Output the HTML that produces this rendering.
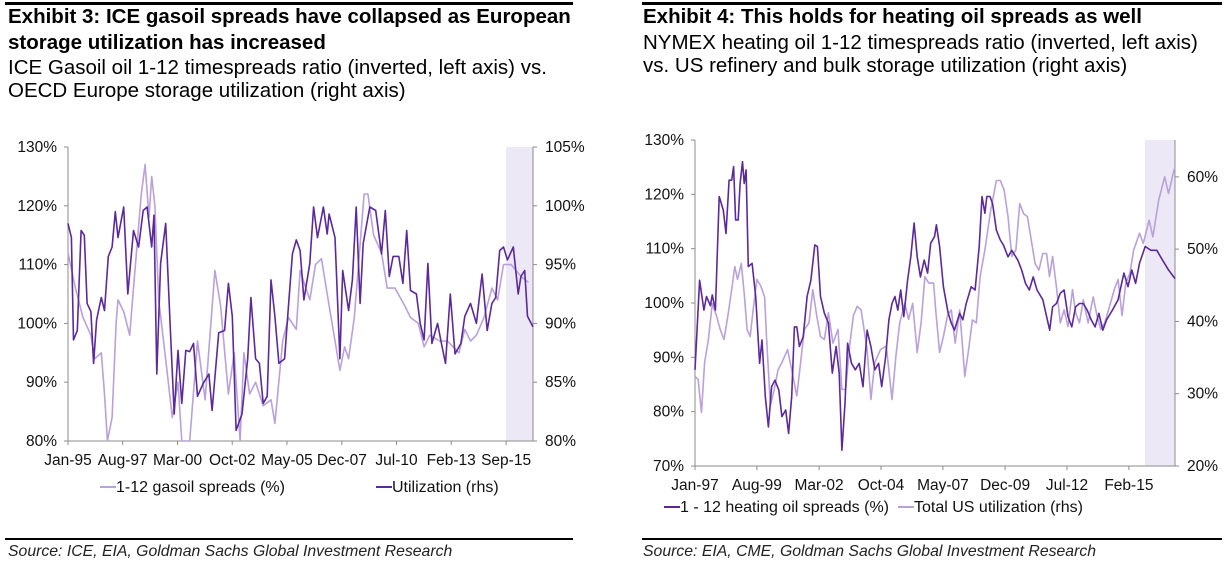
<!DOCTYPE html>
<html><head><meta charset="utf-8">
<style>
body{margin:0;width:1225px;height:567px;background:#fff;font-family:"Liberation Sans",Arial,sans-serif;overflow:hidden;position:relative}
.t{position:absolute;white-space:nowrap;color:#000}
.h{font-weight:bold;font-size:20.5px}
.s{font-size:20.5px}
.src{font-style:italic;font-size:15.8px;color:#222}
.rule{position:absolute;height:3px;background:#000}
svg{position:absolute;left:0;top:0}
svg text{font-family:"Liberation Sans",Arial,sans-serif;font-size:15.5px;fill:#111}
svg text.lg{font-size:16px}
</style></head><body>
<div class="rule" style="left:5px;top:2px;width:568px"></div>
<div class="rule" style="left:642px;top:2px;width:580px"></div>
<div class="t h" style="left:8px;top:4px;line-height:26px">Exhibit 3: ICE gasoil spreads have collapsed as European<br>storage utilization has increased</div>
<div class="t s" style="left:8px;top:56px;line-height:23px">ICE Gasoil oil 1-12 timespreads ratio (inverted, left axis) vs.<br>OECD Europe storage utilization (right axis)</div>
<div class="t h" style="left:643px;top:4px;line-height:26px">Exhibit 4: This holds for heating oil spreads as well</div>
<div class="t s" style="left:643px;top:31px;line-height:23px">NYMEX heating oil 1-12 timespreads ratio (inverted, left axis)<br>vs. US refinery and bulk storage utilization (right axis)</div>
<div class="rule" style="left:5px;top:538px;width:568px;height:2px"></div>
<div class="rule" style="left:642px;top:538px;width:580px;height:2px"></div>
<div class="t src" style="left:8px;top:543px">Source: ICE, EIA, Goldman Sachs Global Investment Research</div>
<div class="t src" style="left:643px;top:543px">Source: EIA, CME, Goldman Sachs Global Investment Research</div>
<svg id="svg" width="1225" height="567"></svg>
<script>
// ---- Exhibit 3 data ----
const gasoilYears=[1995.00,1995.35,1995.71,1996.08,1996.26,1996.57,1996.72,1996.86,1997.08,1997.27,1997.36,1997.63,1997.91,1998.09,1998.46,1998.64,1998.82,1998.95,1999.10,1999.28,1999.64,1999.92,2000.19,2000.37,2000.74,2001.11,2001.47,2001.93,2002.20,2002.57,2002.84,2003.12,2003.30,2003.57,2003.85,2004.21,2004.58,2004.76,2005.13,2005.40,2005.77,2005.95,2006.41,2006.68,2006.96,2007.23,2007.60,2007.83,2008.05,2008.24,2008.51,2008.97,2009.15,2009.42,2009.79,2010.06,2010.43,2010.89,2011.16,2011.53,2011.80,2012.07,2012.53,2012.90,2013.17,2013.45,2013.72,2013.99,2014.27,2014.63,2015.00,2015.27,2015.55,2015.91,2016.37,2016.73];
const gasoilSpreads=[112,106,101,98,94,95,88,80,84,100,104,102,98,106,122,127,118,125,120,104,93,84,90,80,79,97,87,109,103,88,95,80,95,88,90,86,87,83,97,101,99,109,104,110,111,105,97,92,96,94,101,122,122,115,112,106,106,103,101,100,96,98,97,97,96,95,99,97,98,101,106,104,110,110,108,107];
const euUtilYears=[1995.00,1995.16,1995.26,1995.44,1995.62,1995.77,1995.90,1996.08,1996.21,1996.35,1996.57,1996.72,1996.90,1997.08,1997.23,1997.36,1997.63,1997.82,1998.09,1998.33,1998.55,1998.73,1998.95,1999.06,1999.19,1999.37,1999.61,1999.83,2000.01,2000.19,2000.37,2000.56,2000.74,2000.92,2001.11,2001.38,2001.65,2001.80,2002.11,2002.39,2002.57,2002.75,2002.93,2003.21,2003.48,2003.63,2003.85,2004.03,2004.21,2004.40,2004.58,2004.76,2004.95,2005.22,2005.40,2005.59,2005.77,2005.95,2006.13,2006.41,2006.59,2006.77,2007.05,2007.23,2007.32,2007.60,2007.83,2007.96,2008.24,2008.42,2008.60,2008.78,2008.93,2009.24,2009.52,2009.79,2009.97,2010.16,2010.34,2010.61,2010.80,2010.98,2011.16,2011.44,2011.62,2011.80,2011.98,2012.17,2012.44,2012.62,2012.81,2013.04,2013.26,2013.54,2013.72,2013.99,2014.27,2014.54,2014.78,2015.00,2015.18,2015.37,2015.55,2015.73,2016.01,2016.24,2016.37,2016.55,2016.68,2016.94];
const euUtil=[98.5,97.3,88.6,89.4,97.9,97.5,91.7,91.0,86.6,90.3,92.2,91.1,95.7,96.5,99.5,97.3,99.9,92.5,97.9,96.5,99.6,99.9,96.5,99.2,85.7,95.1,98.5,89.4,82.3,87.7,83.2,87.7,87.6,88.3,83.8,84.9,85.7,82.6,89.2,89.4,93.4,90.6,80.9,82.3,87.0,92.2,87.0,86.6,83.2,83.8,93.7,90.6,86.6,87.0,91.4,95.9,97.1,96.2,92.0,95.1,99.9,97.3,99.9,97.6,99.3,97.3,87.0,94.5,91.1,93.7,99.9,91.7,96.8,99.9,99.6,95.9,99.6,94.0,95.7,95.7,93.4,97.9,92.8,92.5,90.0,88.6,95.1,88.3,90.0,88.3,86.6,92.5,87.4,88.3,90.6,91.7,90.0,94.2,89.4,91.7,92.2,96.2,96.5,95.4,96.5,92.5,94.0,94.5,90.6,89.7];
const ex3LeftTicks=[80,90,100,110,120,130];
const ex3RightTicks=[80,85,90,95,100,105];
const ex3XLabels=["Jan-95","Aug-97","Mar-00","Oct-02","May-05","Dec-07","Jul-10","Feb-13","Sep-15"];
const ex3XLabelYears=[1995,1997.58,2000.17,2002.75,2005.33,2007.92,2010.5,2013.08,2015.67];
// ---- Exhibit 4 data ----
const hoYears=[1997.00,1997.19,1997.37,1997.48,1997.64,1997.72,1997.85,1998.01,1998.18,1998.29,1998.42,1998.53,1998.61,1998.69,1998.80,1998.88,1998.98,1999.05,1999.13,1999.22,1999.38,1999.53,1999.69,1999.79,1999.93,2000.06,2000.19,2000.33,2000.49,2000.62,2000.78,2000.90,2001.03,2001.14,2001.24,2001.35,2001.51,2001.67,2001.83,2001.99,2002.10,2002.23,2002.39,2002.56,2002.72,2002.88,2003.01,2003.12,2003.25,2003.36,2003.52,2003.68,2003.84,2004.00,2004.17,2004.33,2004.49,2004.65,2004.78,2004.94,2005.08,2005.21,2005.33,2005.45,2005.57,2005.70,2005.86,2005.99,2006.13,2006.26,2006.39,2006.55,2006.69,2006.82,2006.98,2007.06,2007.19,2007.35,2007.55,2007.68,2007.81,2007.90,2008.03,2008.16,2008.30,2008.51,2008.67,2008.84,2008.96,2009.08,2009.16,2009.29,2009.40,2009.56,2009.72,2009.85,2010.04,2010.20,2010.45,2010.61,2010.77,2010.93,2011.09,2011.25,2011.49,2011.65,2011.78,2011.90,2012.06,2012.22,2012.38,2012.54,2012.70,2012.86,2013.02,2013.18,2013.34,2013.51,2013.67,2013.83,2013.99,2014.15,2014.39,2014.63,2014.87,2015.04,2015.20,2015.36,2015.52,2015.76,2016.00,2016.24,2016.48,2016.73,2017.00];
const hoSpreads=[87.7,104.2,98.7,101.2,99.5,101.5,98.7,119.6,117.1,112.8,122.6,122.6,125.1,115.3,115.3,122.0,126.0,122.0,124.5,106.7,107.3,101.2,88.9,93.2,82.8,77.2,84.6,85.8,84.0,79.1,80.3,76.0,82.8,95.6,95.6,92.0,93.8,101.2,104.2,110.7,110.4,101.2,98.1,96.3,87.1,92.0,87.1,72.9,81.5,92.6,88.9,87.7,88.9,84.6,95.0,92.0,87.7,88.9,84.6,90.1,96.9,99.9,101.2,98.7,102.4,97.5,104.2,108.5,114.7,108.5,104.8,107.9,105.5,111.0,112.2,114.4,110.4,103.0,98.1,96.3,95.0,96.3,98.1,96.9,99.9,103.0,102.4,110.4,119.6,116.5,119.6,119.6,118.3,113.4,111.6,110.7,108.5,109.7,107.9,106.1,103.6,102.4,104.8,102.4,100.6,97.5,95.0,99.3,99.9,101.8,102.4,97.5,95.6,99.3,99.9,99.9,98.7,96.9,95.6,98.1,95.0,96.9,98.7,100.6,105.5,103.0,106.1,103.6,107.3,110.4,109.7,109.7,107.9,106.1,104.5];
const usUtilYears=[1997.00,1997.13,1997.27,1997.40,1997.56,1997.72,1997.89,1998.05,1998.21,1998.37,1998.53,1998.66,1998.77,1998.93,1999.05,1999.17,1999.30,1999.42,1999.58,1999.74,1999.90,1999.98,2000.14,2000.30,2000.46,2000.62,2000.86,2001.03,2001.24,2001.40,2001.56,2001.75,2001.91,2002.07,2002.23,2002.39,2002.56,2002.75,2002.96,2003.12,2003.28,2003.44,2003.60,2003.76,2003.92,2004.17,2004.33,2004.49,2004.73,2004.97,2005.21,2005.37,2005.53,2005.74,2005.90,2006.07,2006.26,2006.42,2006.58,2006.74,2006.94,2007.03,2007.19,2007.35,2007.52,2007.68,2007.84,2008.03,2008.24,2008.40,2008.56,2008.72,2008.88,2009.08,2009.32,2009.56,2009.72,2009.88,2010.04,2010.20,2010.37,2010.53,2010.69,2010.85,2011.01,2011.17,2011.33,2011.49,2011.65,2011.77,2011.90,2012.06,2012.22,2012.38,2012.54,2012.73,2012.86,2013.02,2013.18,2013.38,2013.59,2013.75,2013.91,2014.07,2014.23,2014.47,2014.63,2014.79,2014.95,2015.12,2015.28,2015.52,2015.68,2015.92,2016.08,2016.32,2016.57,2016.73,2016.89,2017.00];
const usUtil=[32.4,32.0,27.4,34.3,37.5,42.5,40.8,38.9,37.5,40.8,44.4,47.6,45.8,48.0,43.9,38.9,37.9,41.6,45.8,44.9,43.4,37.9,28.3,30.6,33.3,34.3,36.1,33.3,29.7,34.3,38.9,39.8,44.4,40.8,37.9,37.5,41.2,37.0,38.9,30.6,30.6,36.6,40.8,42.1,41.6,36.1,29.2,34.3,36.1,36.6,29.2,35.2,39.8,42.5,40.3,42.5,35.7,39.8,46.2,45.3,45.3,41.6,35.7,37.9,40.8,41.6,37.0,41.6,32.4,36.1,40.2,39.8,46.2,49.9,55.4,59.5,59.5,58.2,54.5,49.0,49.9,56.3,54.9,54.5,51.3,48.0,47.1,49.4,49.4,46.2,49.0,44.8,39.8,41.6,39.3,44.4,41.2,39.8,43.0,39.8,43.4,40.8,38.9,39.8,41.6,44.4,45.8,40.8,45.3,46.7,49.9,52.2,50.8,54.0,51.7,56.8,60.0,57.7,60.0,61.4];
const ex4LeftTicks=[70,80,90,100,110,120,130];
const ex4RightTicks=[20,30,40,50,60];
const ex4XLabels=["Jan-97","Aug-99","Mar-02","Oct-04","May-07","Dec-09","Jul-12","Feb-15"];
const ex4XLabelYears=[1997,1999.58,2002.17,2004.75,2007.33,2009.92,2012.5,2015.08];

const DARK="#5a2a9a", LIGHT="#b9a1d9", AX="#8c8c8c";
const svg=document.getElementById('svg');
const NS="http://www.w3.org/2000/svg";
function mk(tag,attrs){const e=document.createElementNS(NS,tag);for(const k in attrs)e.setAttribute(k,attrs[k]);svg.appendChild(e);return e;}

function chart(c){
  const sx=y=>c.x0+(y-c.t0)/(c.t1-c.t0)*(c.x1-c.x0);
  const syL=v=>c.y1-(v-c.l0)/(c.l1-c.l0)*(c.y1-c.y0);
  const syR=v=>c.y1-(v-c.r0)/(c.r1-c.r0)*(c.y1-c.y0);
  let e=mk('rect',{x:sx(c.shade),y:c.y0,width:c.x1-sx(c.shade),height:c.y1-c.y0,fill:"#ece8f5"});
  
  
  e=mk('path',{d:`M${c.x0},${c.y0}V${c.y1}H${c.x1}V${c.y0}`,stroke:AX,fill:"none","stroke-width":1});
  
  
  c.lt.forEach(v=>{const y=syL(v);
    mk('line',{x1:c.x0-4,x2:c.x0,y1:y,y2:y,stroke:AX});
    const t=mk('text',{x:c.x0-11,y:y+5,"text-anchor":"end"});t.textContent=v+"%";
    
    });
  c.rt.forEach(v=>{const y=syR(v);
    mk('line',{x1:c.x1,x2:c.x1+4,y1:y,y2:y,stroke:AX});
    const t=mk('text',{x:c.x1+12,y:y+5});t.textContent=v+"%";
    
    });
  c.xl.forEach((s,i)=>{const x=sx(c.xly[i]);
    mk('line',{x1:x,x2:x,y1:c.y1,y2:c.y1+4,stroke:AX});
    const t=mk('text',{x:x,y:c.y1+24,"text-anchor":"middle"});t.textContent=s;
    
    });
  c.series.forEach(s=>{
    const sc=s.axis==='L'?syL:syR;
    const d=s.xs.map((x,i)=>(i?'L':'M')+sx(x).toFixed(1)+','+Math.min(c.y1,Math.max(c.y0,sc(s.ys[i]))).toFixed(1)).join('');
    const p=mk('path',{d:d,stroke:s.color,fill:'none','stroke-width':1.6,'stroke-linejoin':'round'});
    
    
  });
  c.legend.forEach(l=>{
    mk('line',{x1:l.x,x2:l.x+16,y1:c.ly,y2:c.ly,stroke:l.color,'stroke-width':2});
    const t=mk('text',{x:l.x+16,y:c.ly+5,'class':'lg'});t.textContent=l.text;
    
    
  });
}
chart({id:'ex3',x0:68,x1:533,y0:147,y1:441,t0:1995,t1:2016.94,l0:80,l1:130,r0:80,r1:105,shade:2015.67,
  lt:ex3LeftTicks,rt:ex3RightTicks,xl:ex3XLabels,xly:ex3XLabelYears,ly:487,
  series:[{xs:gasoilYears,ys:gasoilSpreads,axis:'L',color:LIGHT,name:'gasoil-spreads-line'},
          {xs:euUtilYears,ys:euUtil,axis:'R',color:DARK,name:'europe-utilization-line'}],
  legend:[{x:100,color:LIGHT,text:'1-12 gasoil spreads (%)'},{x:376,color:DARK,text:'Utilization (rhs)'}]});
chart({id:'ex4',x0:695,x1:1175,y0:140,y1:466,t0:1997,t1:2017,l0:70,l1:130,r0:20,r1:65.1,shade:2015.75,
  lt:ex4LeftTicks,rt:ex4RightTicks,xl:ex4XLabels,xly:ex4XLabelYears,ly:507,
  series:[{xs:usUtilYears,ys:usUtil,axis:'R',color:LIGHT,name:'us-utilization-line'},
          {xs:hoYears,ys:hoSpreads,axis:'L',color:DARK,name:'heating-oil-spreads-line'}],
  legend:[{x:664,color:DARK,text:'1 - 12 heating oil spreads (%)'},{x:898,color:LIGHT,text:'Total US utilization (rhs)'}]});
</script>
</body></html>
